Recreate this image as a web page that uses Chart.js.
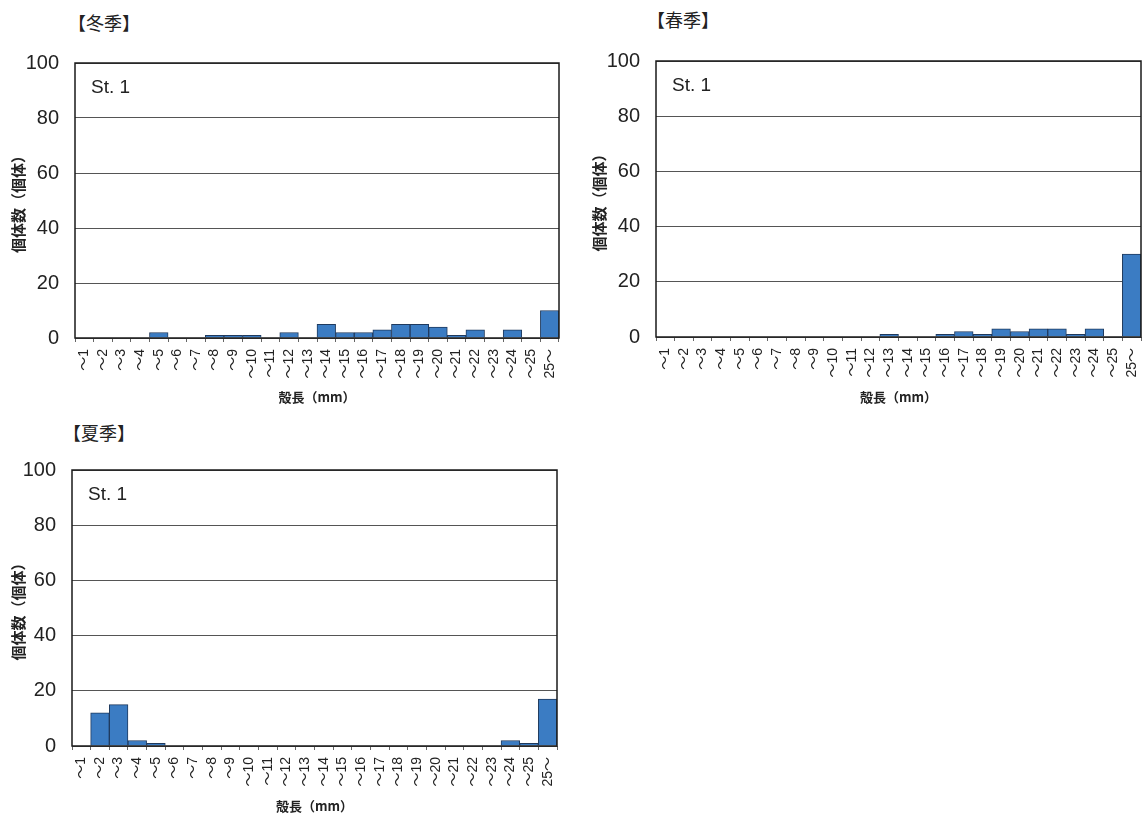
<!DOCTYPE html>
<html>
<head>
<meta charset="utf-8">
<script src="https://cdn.jsdelivr.net/npm/chart.js@4"></script>
<style>
html, body { margin: 0; padding: 0; background: #fff; width: 1142px; height: 818px; overflow: hidden; }
.box { position: absolute; }
.season { position: absolute; font-family: "Noto Sans CJK JP", sans-serif; font-size: 18px; line-height: 1; color: #222; white-space: nowrap; }
</style>
</head>
<body>
<div class="season" style="left:68px;top:13px">【冬季】</div>
<div class="season" style="left:647px;top:10px">【春季】</div>
<div class="season" style="left:63px;top:423px">【夏季】</div>

<div class="box" style="left:0;top:35px;width:575px;height:373px"><canvas id="winter"></canvas></div>
<div class="box" style="left:581px;top:33px;width:576px;height:374px"><canvas id="spring"></canvas></div>
<div class="box" style="left:0;top:442px;width:573px;height:374px"><canvas id="summer"></canvas></div>

<script>
// Categories (shell length classes)
const sizeClasses = ['～1','～2','～3','～4','～5','～6','～7','～8','～9','～10','～11','～12','～13',
  '～14','～15','～16','～17','～18','～19','～20','～21','～22','～23','～24','～25','25～'];

// Counts per class
const winterCounts = [0,0,0,0,2,0,0,1,1,1,0,2,0,5,2,2,3,5,5,4,1,3,0,3,0,10];
const springCounts = [0,0,0,0,0,0,0,0,0,0,0,0,1,0,0,1,2,1,3,2,3,3,1,3,0,30];
const summerCounts = [0,12,15,2,1,0,0,0,0,0,0,0,0,0,0,0,0,0,0,0,0,0,0,2,1,17];

const yTicks = [0, 20, 40, 60, 80, 100];
const stationLabel = 'St. 1';
const yTitle = '個体数（個体）';
const xTitle = '殻長（mm）';

const narrow = '"Liberation Sans Narrow", "Arial Narrow", "Liberation Sans", sans-serif';

// frame round the plot + station label
const framePlugin = {
  id: 'frame',
  afterDatasetsDraw(chart, args, opts) {
    const { ctx, chartArea: a } = chart;
    ctx.save();
    ctx.strokeStyle = '#1a1a1a';
    ctx.lineWidth = 1.5;
    ctx.strokeRect(a.left, a.top, a.right - a.left, a.bottom - a.top);
    ctx.font = '19px ' + narrow;
    ctx.fillStyle = '#222';
    ctx.textBaseline = 'middle';
    ctx.fillText(opts.label, a.left + 16, a.top + 25);
    ctx.restore();
  }
};

function makeChart(id, values, yWidth, xTitlePad) {
  return new Chart(document.getElementById(id), {
    type: 'bar',
    data: {
      labels: sizeClasses,
      datasets: [{
        data: values,
        backgroundColor: '#3b7cc3',
        borderColor: '#1f3a5e',
        borderWidth: 1,
        barPercentage: 1,
        categoryPercentage: 1
      }]
    },
    options: {
      responsive: true,
      maintainAspectRatio: false,
      animation: false,
      layout: { padding: { top: 20, right: 16, bottom: 0, left: 0 } },
      plugins: {
        legend: { display: false },
        tooltip: { enabled: false },
        frame: { label: stationLabel }
      },
      scales: {
        x: {
          afterFit(scale) { scale.height = 70; },
          grid: { display: true, drawOnChartArea: false, drawTicks: true, tickLength: 4, color: '#666', offset: true },
          border: { display: false },
          ticks: {
            autoSkip: false, minRotation: 90, maxRotation: 90, padding: 7,
            color: '#222',
            font: { family: narrow + ', "Noto Sans CJK JP"', size: 14 }
          },
          title: {
            display: true, text: xTitle, color: '#222',
            font: { family: '"Noto Sans CJK JP"', size: 13, weight: 'bold' },
            padding: { top: 0, bottom: xTitlePad }
          }
        },
        y: {
          min: 0, max: 100,
          afterFit(scale) { scale.width = yWidth; },
          afterBuildTicks(scale) { scale.ticks = yTicks.map(v => ({ value: v })); },
          grid: { color: '#555', lineWidth: 1, drawTicks: false },
          border: { display: false },
          ticks: {
            padding: 16, color: '#222',
            font: { family: narrow, size: 20 }
          },
          title: {
            display: true, text: yTitle, color: '#222',
            font: { family: '"Noto Sans CJK JP"', size: 15, weight: 'bold' },
            padding: { top: 9, bottom: 0 }
          }
        }
      }
    },
    plugins: [framePlugin]
  });
}

makeChart('winter', winterCounts, 75, 3);
makeChart('spring', springCounts, 75, 2);
makeChart('summer', summerCounts, 72, 2);
</script>
</body>
</html>
